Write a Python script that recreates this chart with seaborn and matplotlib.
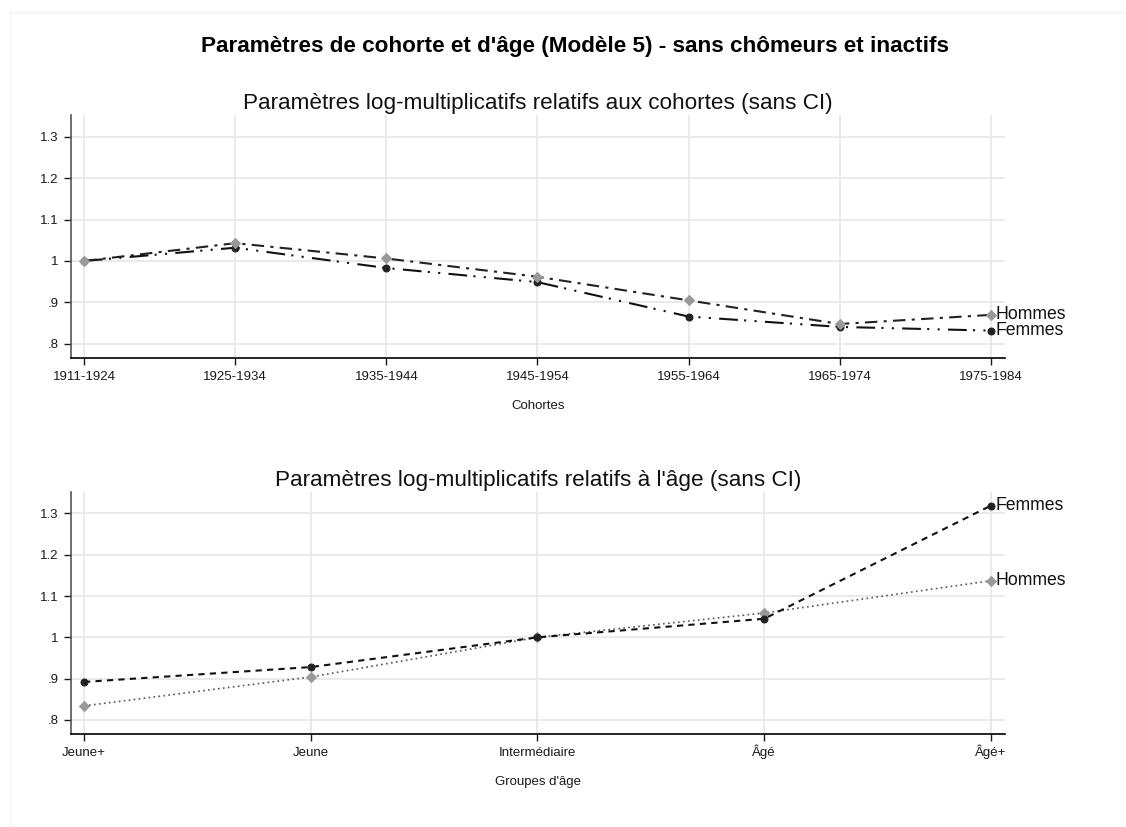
import matplotlib
matplotlib.use("Agg")
import matplotlib.pyplot as plt
from matplotlib.patches import Rectangle
import seaborn as sns
import pandas as pd

sns.set_theme(style="white")
plt.rcParams['font.family'] = ['Liberation Sans', 'DejaVu Sans']
plt.rcParams['text.color'] = '#111111'

cohortes = ["1911-1924", "1925-1934", "1935-1944", "1945-1954", "1955-1964", "1965-1974", "1975-1984"]
coh_femmes = [1.0, 1.032, 0.983, 0.949, 0.866, 0.841, 0.832]
coh_hommes = [1.0, 1.043, 1.006, 0.962, 0.905, 0.848, 0.870]

ages = ["Jeune+", "Jeune", "Intermédiaire", "Âgé", "Âgé+"]
age_femmes = [0.892, 0.928, 1.0, 1.045, 1.319]
age_hommes = [0.834, 0.904, 1.0, 1.059, 1.137]

yticks = [0.8, 0.9, 1.0, 1.1, 1.2, 1.3]
yticklabels = [".8", ".9", "1", "1.1", "1.2", "1.3"]

GRAY = "#999999"
GRID = "#e8e8e8"

fig = plt.figure(figsize=(11.26, 8.27), dpi=100)
# faint outer frame
fig.patches.append(Rectangle((10 / 1126, -0.01), 1.02, 1 - 12 / 827 + 0.01, transform=fig.transFigure,
                             fill=False, edgecolor="#f4f4f4", linewidth=1.0, zorder=0))
ax1 = fig.add_axes([0.0631, 0.5671, 0.8294, 0.2938])
ax2 = fig.add_axes([0.0631, 0.1125, 0.8294, 0.2926])

def style_axes(ax, labels, xlabel, title, xlim):
    ax.set_ylim(0.766, 1.352)
    ax.set_xlim(*xlim)
    ax.set_yticks(yticks)
    ax.set_yticklabels(yticklabels, fontsize=9.5)
    ax.set_xticks(range(len(labels)))
    ax.set_xticklabels(labels, fontsize=9.5)
    ax.grid(True, color=GRID, linewidth=1.3)
    ax.set_axisbelow(True)
    for s in ["top", "right"]:
        ax.spines[s].set_visible(False)
    ax.spines["left"].set_color("#555555")
    ax.spines["bottom"].set_color("black")
    ax.spines["left"].set_linewidth(1.2)
    ax.spines["bottom"].set_linewidth(1.2)
    ax.tick_params(axis="both", direction="out", length=5, width=1, colors="#1a1a1a", pad=4, bottom=True, left=True)
    ax.tick_params(axis="x", pad=10.8)
    for lab in ax.get_xticklabels():
        lab.set_verticalalignment("baseline")
    ax.set_xlabel(xlabel, fontsize=9.5, labelpad=12, color="#1a1a1a")
    ax.set_ylabel("")
    ax.set_title(title, fontsize=16.2, pad=4, color="#111111")

# Top panel
df_cf = pd.DataFrame({"x": range(len(cohortes)), "y": coh_femmes})
df_ch = pd.DataFrame({"x": range(len(cohortes)), "y": coh_hommes})
sns.lineplot(data=df_cf, x="x", y="y", ax=ax1, color="#111111", linewidth=1.5,
             linestyle=(0, (9, 3, 1, 4, 1, 4)), marker="o", markersize=5,
             markerfacecolor="#222222", markeredgecolor="#222222", zorder=3)
sns.lineplot(data=df_ch, x="x", y="y", ax=ax1, color="#222222", linewidth=1.5,
             linestyle=(0, (6, 3, 1.5, 3)), marker="D", markersize=5,
             markerfacecolor=GRAY, markeredgecolor=GRAY, zorder=4)
style_axes(ax1, cohortes, "Cohortes", "Paramètres log-multiplicatifs relatifs aux cohortes (sans CI)",
           (-0.086, 6.093))
n1 = len(cohortes) - 1
ax1.text(n1 + 0.03, coh_hommes[-1], "Hommes", fontsize=12.7, va="center", ha="left", clip_on=False)
ax1.text(n1 + 0.03, coh_femmes[-1], "Femmes", fontsize=12.7, va="center", ha="left", clip_on=False)

# Bottom panel
df_af = pd.DataFrame({"x": range(len(ages)), "y": age_femmes})
df_ah = pd.DataFrame({"x": range(len(ages)), "y": age_hommes})
sns.lineplot(data=df_ah, x="x", y="y", ax=ax2, color="#555555", linewidth=1.2,
             linestyle=(0, (1, 2)), marker="D", markersize=5,
             markerfacecolor=GRAY, markeredgecolor=GRAY, zorder=3)
sns.lineplot(data=df_af, x="x", y="y", ax=ax2, color="#111111", linewidth=1.5,
             linestyle=(0, (3, 2.5)), marker="o", markersize=5,
             markerfacecolor="#222222", markeredgecolor="#222222", zorder=4)
style_axes(ax2, ages, "Groupes d'âge", "Paramètres log-multiplicatifs relatifs à l'âge (sans CI)",
           (-0.0573, 4.062))
n2 = len(ages) - 1
ax2.text(n2 + 0.02, age_femmes[-1], "Femmes", fontsize=12.7, va="center", ha="left", clip_on=False)
ax2.text(n2 + 0.02, age_hommes[-1], "Hommes", fontsize=12.7, va="center", ha="left", clip_on=False)

fig.suptitle("Paramètres de cohorte et d'âge (Modèle 5) - sans chômeurs et inactifs",
             fontsize=16.2, fontweight="bold", x=0.511, y=0.957, color="black")

fig.savefig("out.png", dpi=100, facecolor="white")
